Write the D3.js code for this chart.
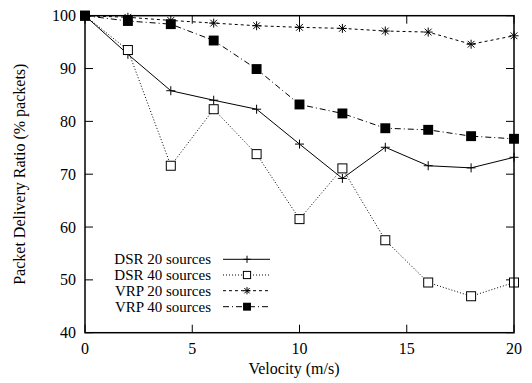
<!DOCTYPE html>
<html>
<head>
<meta charset="utf-8">
<script src="https://cdn.jsdelivr.net/npm/d3@7"></script>
<style>
  body { margin: 0; background: #fff; }
</style>
</head>
<body>
<div id="chartDiv"></div>
<script>
// data
const velocity = [0, 2, 4, 6, 8, 10, 12, 14, 16, 18, 20];
const dsr20 = [100, 92.7, 85.8, 84.0, 82.3, 75.7, 69.2, 75.1, 71.6, 71.2, 73.2];
const dsr40 = [100, 93.5, 71.6, 82.3, 73.8, 61.5, 71.1, 57.5, 49.5, 46.9, 49.5];
const vrp20 = [100, 99.7, 99.1, 98.6, 98.1, 97.8, 97.6, 97.1, 96.9, 94.6, 96.2];
const vrp40 = [100, 99.0, 98.4, 95.3, 89.9, 83.2, 81.5, 78.7, 78.4, 77.2, 76.7];
const seriesNames = ["DSR 20 sources", "DSR 40 sources", "VRP 20 sources", "VRP 40 sources"];
const xTicks = [0, 5, 10, 15, 20];
const yTicks = [40, 50, 60, 70, 80, 90, 100];

const width = 532, height = 383;
const margin = {top: 15.7, right: 18, bottom: 50.3, left: 85};
const fontFam = "'Liberation Serif', 'Times New Roman', serif";

const x = d3.scaleLinear().domain([0, 20]).range([margin.left, width - margin.right]);
const y = d3.scaleLinear().domain([40, 100]).range([height - margin.bottom, margin.top]);

const series = [
  {name: seriesNames[0], values: dsr20, dash: null, marker: "plus"},
  {name: seriesNames[1], values: dsr40, dash: "1,2", marker: "square"},
  {name: seriesNames[2], values: vrp20, dash: "3,3", marker: "star"},
  {name: seriesNames[3], values: vrp40, dash: "6,3,1,3", marker: "filled"}
];

const svg = d3.create("svg")
    .attr("width", width)
    .attr("height", height)
    .attr("font-family", fontFam);

// ticks, inward, on all four sides
const tickLen = 8;
const grid = svg.append("g").attr("stroke", "#000").attr("stroke-width", 1);
xTicks.forEach(t => {
  grid.append("line").attr("x1", x(t)).attr("x2", x(t)).attr("y1", y(40)).attr("y2", y(40) - tickLen);
  grid.append("line").attr("x1", x(t)).attr("x2", x(t)).attr("y1", y(100)).attr("y2", y(100) + tickLen);
});
yTicks.forEach(t => {
  grid.append("line").attr("x1", x(0)).attr("x2", x(0) + tickLen).attr("y1", y(t)).attr("y2", y(t));
  grid.append("line").attr("x1", x(20)).attr("x2", x(20) - tickLen).attr("y1", y(t)).attr("y2", y(t));
});

svg.append("g")
  .selectAll("text")
  .data(xTicks)
  .join("text")
  .attr("x", d => x(d))
  .attr("y", 354)
  .attr("text-anchor", "middle")
  .attr("font-size", 16)
  .text(d => d);

svg.append("g")
  .selectAll("text")
  .data(yTicks)
  .join("text")
  .attr("x", 76)
  .attr("y", d => y(d) + 5.5)
  .attr("text-anchor", "end")
  .attr("font-size", 16)
  .text(d => d);

svg.append("text")
  .attr("x", 294)
  .attr("y", 374)
  .attr("text-anchor", "middle")
  .attr("font-size", 16)
  .text("Velocity (m/s)");

svg.append("text")
  .attr("transform", `translate(25,${(y(40) + y(100)) / 2}) rotate(-90)`)
  .attr("text-anchor", "middle")
  .attr("font-size", 16)
  .text("Packet Delivery Ratio (% packets)");

function drawMarker(g, m, k) {
  const s = 4.5 * k;
  if (m === "plus") {
    g.append("path").attr("d", `M${-s},0H${s}M0,${-s}V${s}`).attr("stroke", "#000").attr("fill", "none");
  } else if (m === "square") {
    g.append("rect").attr("x", -s).attr("y", -s).attr("width", 2 * s).attr("height", 2 * s)
      .attr("fill", "#fff").attr("stroke", "#000");
  } else if (m === "star") {
    const d = s * 0.75;
    g.append("path").attr("d", `M${-s},0H${s}M0,${-s}V${s}M${-d},${-d}L${d},${d}M${-d},${d}L${d},${-d}`)
      .attr("stroke", "#000").attr("fill", "none");
  } else {
    const f = s * 1.1;
    g.append("rect").attr("x", -f).attr("y", -f).attr("width", 2 * f).attr("height", 2 * f).attr("fill", "#000");
  }
}

const line = d3.line()
  .x((d, i) => x(velocity[i]))
  .y(d => y(d));

series.forEach(s => {
  svg.append("path")
    .attr("d", line(s.values))
    .attr("fill", "none")
    .attr("stroke", "#000")
    .attr("stroke-width", 1)
    .attr("stroke-dasharray", s.dash);
  s.values.forEach((v, i) => {
    const g = svg.append("g").attr("transform", `translate(${x(velocity[i])},${y(v)})`);
    drawMarker(g, s.marker, 1);
  });
});

// legend
const legendY = [259.3, 275, 290.7, 306.7];
series.forEach((s, i) => {
  const ly = legendY[i];
  svg.append("text")
    .attr("x", 211)
    .attr("y", ly + 5)
    .attr("text-anchor", "end")
    .attr("font-size", 15)
    .text(s.name);
  svg.append("line")
    .attr("x1", 223).attr("x2", 270)
    .attr("y1", ly).attr("y2", ly)
    .attr("stroke", "#000")
    .attr("stroke-dasharray", s.dash);
  const g = svg.append("g").attr("transform", `translate(247,${ly})`);
  drawMarker(g, s.marker, 0.8);
});

// frame
svg.append("rect")
  .attr("x", x(0)).attr("y", y(100))
  .attr("width", x(20) - x(0)).attr("height", y(40) - y(100))
  .attr("fill", "none")
  .attr("stroke", "#000")
  .attr("stroke-width", 1.5);

document.getElementById("chartDiv").appendChild(svg.node());
</script>
</body>
</html>
